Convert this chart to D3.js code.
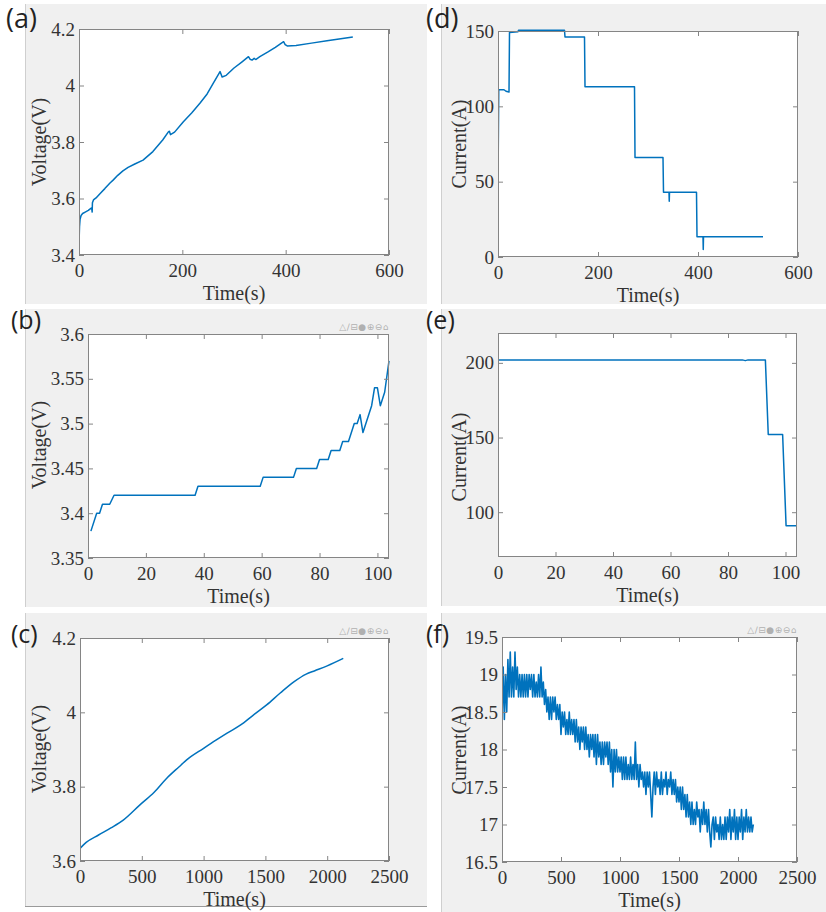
<!DOCTYPE html>
<html><head><meta charset="utf-8">
<script src="https://cdn.jsdelivr.net/npm/d3@7/dist/d3.min.js"></script>
<style>body{margin:0;background:#fff}svg{display:block}</style>
</head><body><svg id="c" width="826" height="912"></svg>
<script>
// ---------- DATA ----------
// (a) voltage vs time
const timeA = [0,0.5,1,2,4,7,12,18,23,24.5,25.5,26,28,33,41,50,60,66,75,85,95,108,124,143,162,173,175,177,185,202,218,234,248,260,273,275,277,285,300,315,328,331,335,339,342,350,365,380,396,399,403,420,450,480,510,530];
const voltA = [3.44,3.47,3.50,3.525,3.54,3.547,3.552,3.558,3.565,3.567,3.552,3.585,3.595,3.602,3.618,3.635,3.655,3.665,3.682,3.698,3.710,3.722,3.736,3.766,3.807,3.836,3.838,3.826,3.835,3.872,3.903,3.937,3.970,4.008,4.049,4.040,4.030,4.036,4.062,4.083,4.102,4.093,4.090,4.096,4.092,4.102,4.118,4.135,4.155,4.145,4.140,4.142,4.150,4.158,4.166,4.172];
// (d) current vs time
const timeD = [0,0.3,1.5,12,16,22,23,40,41,133,134,173,174,273,274,330,331,342,342.5,343,343.5,397,398,410,410.5,411,411.5,530];
const currD = [0,60,111,111,110,109.5,149,149.5,150.5,150.5,146,146,113,113,66,66,43,43,37,43,43,43,13.5,13.5,5,13.5,13.5,13.5];
// (b) voltage vs time
const timeB = [1,3,4,5,7.5,9,37,38,59.5,60.5,71,72,79,80,83,84,87,88,90,92,93,94,95,98,99,100,101,102.5,104];
const voltB = [3.38,3.40,3.40,3.41,3.41,3.42,3.42,3.43,3.43,3.44,3.44,3.45,3.45,3.46,3.46,3.47,3.47,3.48,3.48,3.50,3.50,3.51,3.49,3.52,3.54,3.54,3.52,3.535,3.57];
// (e) current vs time
const timeE = [0.3,85,86,87,93,94,99,100.2,104];
const currE = [202,202,201.5,202,202,152,152,91,91];
// (c) voltage vs time
const timeC = [0,50,150,250,350,485,600,700,800,863,1000,1100,1190,1300,1400,1510,1620,1730,1830,1900,2000,2130];
const voltC = [3.634,3.650,3.670,3.689,3.710,3.751,3.785,3.822,3.853,3.872,3.903,3.925,3.944,3.966,3.992,4.020,4.052,4.082,4.103,4.112,4.125,4.145];
// (f) current vs time
const timeF = [0,10,20,30,40,50,60,70,80,90,100,110,120,130,140,150,160,170,180,190,200,210,220,230,240,250,260,270,280,290,300,310,320,330,340,350,360,370,380,390,400,410,420,430,440,450,460,470,480,490,500,510,520,530,540,550,560,570,580,590,600,610,620,630,640,650,660,670,680,690,700,710,720,730,740,750,760,770,780,790,800,810,820,830,840,850,860,870,880,890,900,910,920,930,940,950,960,970,980,990,1000,1010,1020,1030,1040,1050,1060,1070,1080,1090,1100,1110,1120,1130,1140,1150,1160,1170,1180,1190,1200,1210,1220,1230,1240,1250,1260,1270,1280,1290,1300,1310,1320,1330,1340,1350,1360,1370,1380,1390,1400,1410,1420,1430,1440,1450,1460,1470,1480,1490,1500,1510,1520,1530,1540,1550,1560,1570,1580,1590,1600,1610,1620,1630,1640,1650,1660,1670,1680,1690,1700,1710,1720,1730,1740,1750,1760,1770,1780,1790,1800,1810,1820,1830,1840,1850,1860,1870,1880,1890,1900,1910,1920,1930,1940,1950,1960,1970,1980,1990,2000,2010,2020,2030,2040,2050,2060,2070,2080,2090,2100,2110,2120,2130];
const currF = [
18.4,19.1,18.4,19.0,18.5,19.2,18.7,19.3,18.7,19.1,
18.7,19.3,18.8,19.1,18.7,19.0,18.7,19.0,18.7,19.0,
18.7,19.0,18.7,19.0,18.8,19.0,18.7,19.0,18.7,18.9,
18.7,19.0,18.7,19.1,18.7,18.9,18.6,18.8,18.5,18.7,
18.4,18.7,18.4,18.7,18.5,18.7,18.4,18.6,18.4,18.6,
18.2,18.5,18.3,18.5,18.2,18.4,18.2,18.5,18.2,18.4,
18.2,18.4,18.1,18.4,18.1,18.3,18.0,18.3,18.1,18.3,
18.0,18.3,18.0,18.2,17.9,18.2,18.0,18.2,17.9,18.2,
17.8,18.2,17.9,18.1,17.8,18.1,17.8,18.1,17.9,18.1,
17.8,18.1,17.7,18.0,17.5,18.0,17.7,18.0,17.7,17.9,
17.7,17.9,17.6,17.9,17.6,17.9,17.6,17.8,17.6,17.9,
17.6,17.8,17.6,18.1,17.6,17.8,17.5,17.8,17.6,17.7,
17.5,17.7,17.4,17.7,17.5,17.7,17.4,17.1,17.5,17.7,
17.4,17.7,17.5,17.6,17.4,17.7,17.4,17.6,17.5,17.7,
17.4,17.6,17.5,17.7,17.4,17.6,17.4,17.6,17.3,17.5,
17.3,17.5,17.2,17.5,17.2,17.4,17.1,17.4,17.1,17.3,
17.0,17.3,17.0,17.2,17.0,17.3,17.1,17.2,16.9,17.2,
17.0,17.3,17.0,17.2,16.9,17.2,16.9,16.7,17.0,17.1,
16.8,17.1,16.9,17.0,16.8,17.1,16.8,17.0,16.8,17.1,
16.8,17.1,16.9,17.2,16.8,17.1,16.9,17.2,16.8,17.1,
16.8,17.1,16.9,17.2,16.8,17.1,16.9,17.2,16.9,17.1,
16.9,17.1,16.9,17.0];

// tick values
const ticksX600 = [0,200,400,600];
const ticksX104 = [0,20,40,60,80,100];
const ticksX2500 = [0,500,1000,1500,2000,2500];
const ticksYA = [3.4,3.6,3.8,4,4.2];
const ticksYD = [0,50,100,150];
const ticksYB = [3.35,3.4,3.45,3.5,3.55,3.6];
const ticksYE = [100,150,200];
const ticksYC = [3.6,3.8,4,4.2];
const ticksYF = [16.5,17,17.5,18,18.5,19,19.5];
const panelLetters = ['(a)','(b)','(c)','(d)','(e)','(f)'];
const xTitle = 'Time(s)';
const yTitles = ['Voltage(V)','Current(A)'];

// ---------- DRAW ----------
const svg = d3.select('#c');
const serif = '"Liberation Serif","Times New Roman",serif';
const lineColor = '#0072BD';
const axisColor = '#858585';
const textColor = '#333';

// panel backgrounds
const bgs = [[25,4,402,300],[25,309,402,298],[25,613,402,293],[441,4,385,300],[441,309,385,297],[441,613,385,299]];
bgs.forEach(b => {
  svg.append('rect').attr('x',b[0]).attr('y',b[1]).attr('width',b[2]).attr('height',b[3]).attr('fill','#f0f0f0');
  svg.append('line').attr('x1',b[0]+0.5).attr('x2',b[0]+0.5).attr('y1',b[1]).attr('y2',b[1]+b[3]).attr('stroke','#cfcfcf');
});
svg.append('line').attr('x1',25).attr('x2',427).attr('y1',906.5).attr('y2',906.5).attr('stroke','#9a9a9a');

const panels = [
  {l:79,r:389,t:29,b:255,xd:[0,600],yd:[3.4,4.2],xt:ticksX600,yt:ticksYA,xs:timeA,ys:voltA,ytitle:yTitles[0],tx:46,ty:142,lab:panelLetters[0],lx:6,ly:28,lfs:27},
  {l:88,r:389,t:334,b:558,xd:[0,104],yd:[3.35,3.6],xt:ticksX104,yt:ticksYB,xs:timeB,ys:voltB,ytitle:yTitles[0],tx:46,ty:445,lab:panelLetters[1],lx:11,ly:329,lfs:25,tool:true},
  {l:80,r:389,t:638,b:861,xd:[0,2500],yd:[3.6,4.2],xt:ticksX2500,yt:ticksYC,xs:timeC,ys:voltC,ytitle:yTitles[0],tx:46,ty:749,lab:panelLetters[2],lx:11,ly:643,lfs:25,tool:true,curve:d3.curveMonotoneX},
  {l:498,r:798,t:31,b:257,xd:[0,600],yd:[0,150],xt:ticksX600,yt:ticksYD,xs:timeD,ys:currD,ytitle:yTitles[1],tx:466,ty:144,lab:panelLetters[3],lx:426,ly:28,lfs:27},
  {l:498,r:797,t:333,b:557,xd:[0,104],yd:[70,220],xt:ticksX104,yt:ticksYE,xs:timeE,ys:currE,ytitle:yTitles[1],tx:466,ty:457,lab:panelLetters[4],lx:426,ly:329,lfs:25},
  {l:502,r:797,t:637,b:862,xd:[0,2500],yd:[16.5,19.5],xt:ticksX2500,yt:ticksYF,xs:timeF,ys:currF,ytitle:yTitles[1],tx:466,ty:750,lab:panelLetters[5],lx:426,ly:643,lfs:25,tool:true,sw:1.6}
];

panels.forEach((p,i) => {
  const x = d3.scaleLinear().domain(p.xd).range([p.l,p.r]);
  const y = d3.scaleLinear().domain(p.yd).range([p.b,p.t]);
  const g = svg.append('g');
  g.append('rect').attr('x',p.l).attr('y',p.t).attr('width',p.r-p.l).attr('height',p.b-p.t).attr('fill','#fff');
  const clipId = 'clip'+i;
  g.append('clipPath').attr('id',clipId).append('rect').attr('x',p.l).attr('y',p.t-2).attr('width',p.r-p.l+1).attr('height',p.b-p.t+4);
  const data = d3.zip(p.xs,p.ys);
  g.append('path').datum(data)
    .attr('clip-path','url(#'+clipId+')')
    .attr('d', d3.line().x(d=>x(d[0])).y(d=>y(d[1])).curve(p.curve||d3.curveLinear))
    .attr('fill','none').attr('stroke',lineColor).attr('stroke-width',p.sw||1.5).attr('stroke-linejoin','round');
  const fmt = d => String(d);
  const styleAxis = (sel) => {
    sel.select('.domain').remove();
    sel.selectAll('.tick line').attr('stroke',axisColor);
    sel.selectAll('.tick text').attr('fill',textColor).attr('font-family',serif).attr('font-size',19);
  };
  g.append('g').attr('transform',`translate(0,${p.b})`)
    .call(d3.axisBottom(x).tickValues(p.xt).tickFormat(fmt).tickSize(-5).tickPadding(9)).call(styleAxis);
  g.append('g').attr('transform',`translate(0,${p.t})`)
    .call(d3.axisTop(x).tickValues(p.xt).tickFormat('').tickSize(-5)).call(styleAxis);
  g.append('g').attr('transform',`translate(${p.l},0)`)
    .call(d3.axisLeft(y).tickValues(p.yt).tickFormat(fmt).tickSize(-5).tickPadding(4)).call(styleAxis);
  g.append('g').attr('transform',`translate(${p.r},0)`)
    .call(d3.axisRight(y).tickValues(p.yt).tickFormat('').tickSize(-5)).call(styleAxis);
  g.append('rect').attr('x',p.l+0.5).attr('y',p.t+0.5).attr('width',p.r-p.l-1).attr('height',p.b-p.t-1)
    .attr('fill','none').attr('stroke',axisColor).attr('stroke-width',1);
  // titles
  g.append('text').attr('x',(p.l+p.r)/2).attr('y',p.b+45).attr('text-anchor','middle')
    .attr('font-family',serif).attr('font-size',20).attr('fill',textColor).text(xTitle);
  g.append('text').attr('transform',`translate(${p.tx},${p.ty}) rotate(-90)`).attr('text-anchor','middle')
    .attr('font-family',serif).attr('font-size',20).attr('fill',textColor).text(p.ytitle);
  // panel letter
  svg.append('text').attr('x',p.lx).attr('y',p.ly).attr('font-family','"Open Sans","Noto Sans",sans-serif')
    .attr('font-size',p.lfs).attr('fill','#222').text(p.lab);
  if (p.tool) {
    svg.append('text').attr('x',p.r).attr('y',p.t-4).attr('text-anchor','end')
      .attr('font-family','"DejaVu Sans",sans-serif').attr('font-size',9).attr('fill','#b0b0b0')
      .attr('letter-spacing',0.5).text('\u25B3\u2215\u229F\u25CF\u2295\u2296\u2302');
  }
});
</script></body></html>
